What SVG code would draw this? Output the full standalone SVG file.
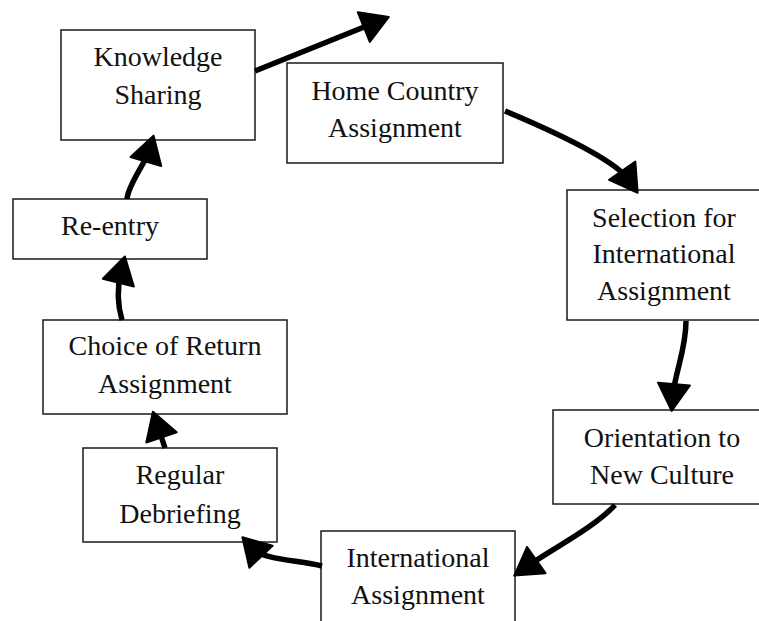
<svg xmlns="http://www.w3.org/2000/svg" width="759" height="621" viewBox="0 0 759 621">
<style>
.box{fill:#fff;stroke:#1a1a1a;stroke-width:1.5}
.con{fill:none;stroke:#000;stroke-width:5.5;stroke-linecap:butt}
</style>
<defs>
<marker id="ah" markerUnits="userSpaceOnUse" markerWidth="32" markerHeight="36" refX="11" refY="17" orient="auto" overflow="visible">
<path d="M0,1 L27,17 L0,33 Z" fill="#000" stroke="#000" stroke-width="2" stroke-linejoin="round"/>
</marker>
</defs>
<rect width="759" height="621" fill="#fff"/>
<g font-family="Liberation Serif, Times New Roman, serif" font-size="28" fill="#111" text-anchor="middle">
<g id="n-knowledge"><rect class="box" x="61" y="30" width="194" height="110"/><text x="158" y="66">Knowledge</text><text x="158" y="104">Sharing</text></g>
<g id="n-home"><rect class="box" x="287" y="63" width="216" height="100"/><text x="395" y="100">Home Country</text><text x="395" y="137">Assignment</text></g>
<g id="n-selection"><rect class="box" x="567" y="190" width="200" height="130"/><text x="664" y="227">Selection for</text><text x="664" y="263">International</text><text x="664" y="300">Assignment</text></g>
<g id="n-orientation"><rect class="box" x="553" y="410" width="214" height="94"/><text x="662" y="447">Orientation to</text><text x="662" y="484">New Culture</text></g>
<g id="n-international"><rect class="box" x="321" y="531" width="194" height="100"/><text x="418" y="567">International</text><text x="418" y="604">Assignment</text></g>
<g id="n-debriefing"><rect class="box" x="83" y="448" width="194" height="94"/><text x="180" y="484">Regular</text><text x="180" y="523">Debriefing</text></g>
<g id="n-choice"><rect class="box" x="43" y="320" width="244" height="94"/><text x="165" y="355">Choice of Return</text><text x="165" y="393">Assignment</text></g>
<g id="n-reentry"><rect class="box" x="13" y="199" width="194" height="60"/><text x="110" y="235">Re-entry</text></g>
</g>
<g id="connectors">
<path class="con" marker-end="url(#ah)" d="M255,71 L374,23"/>
<path class="con" marker-end="url(#ah)" d="M505,111 Q612,156 628.5,179.7"/>
<path class="con" marker-end="url(#ah)" d="M686,321 C686,350 675,372 673,395"/>
<path class="con" marker-end="url(#ah)" d="M615,505 C595,527 552,549 527.3,566.4"/>
<path class="con" marker-end="url(#ah)" d="M322,566 C298,560 264,560 253.4,548.8"/>
<path class="con" marker-end="url(#ah)" d="M165,448 L158,427"/>
<path class="con" marker-end="url(#ah)" d="M122,320 Q115,296 121,272"/>
<path class="con" marker-end="url(#ah)" d="M127,199 C128,185 145.6,162.5 149,151"/>
</g>
</svg>
